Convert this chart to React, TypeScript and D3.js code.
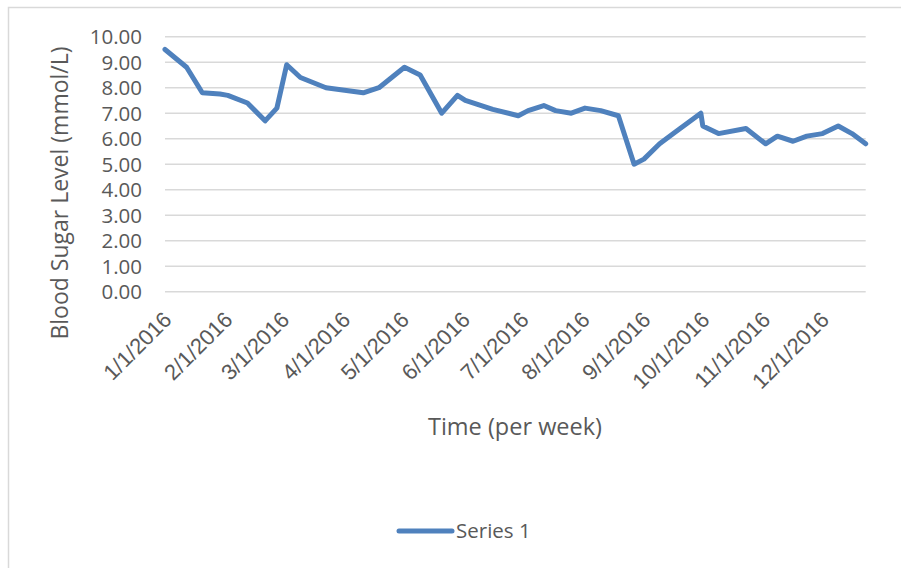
import * as d3 from 'd3';

// readings taken from the chart (one per check-in)
const dates = [
  '2016-01-01', '2016-01-12', '2016-01-20', '2016-01-29', '2016-02-02', '2016-02-12',
  '2016-02-21', '2016-02-27', '2016-03-03', '2016-03-10', '2016-03-23', '2016-04-11',
  '2016-04-19', '2016-05-02', '2016-05-10', '2016-05-21', '2016-05-29', '2016-06-02',
  '2016-06-16', '2016-06-29', '2016-07-04', '2016-07-12', '2016-07-18', '2016-07-26',
  '2016-08-02', '2016-08-10', '2016-08-19', '2016-08-27', '2016-09-01', '2016-09-09',
  '2016-09-16', '2016-09-30', '2016-10-01', '2016-10-09', '2016-10-23', '2016-11-02',
  '2016-11-08', '2016-11-16', '2016-11-23', '2016-12-01', '2016-12-09', '2016-12-16',
  '2016-12-23',
];
const series1 = [
  9.5, 8.8, 7.8, 7.75, 7.7, 7.4,
  6.7, 7.2, 8.9, 8.4, 8.0, 7.8,
  8.0, 8.8, 8.5, 7.0, 7.7, 7.5,
  7.15, 6.9, 7.1, 7.3, 7.1, 7.0,
  7.2, 7.1, 6.9, 5.0, 5.2, 5.8,
  6.2, 7.0, 6.5, 6.2, 6.4, 5.8,
  6.1, 5.9, 6.1, 6.2, 6.5, 6.2,
  5.8,
];
const yTicks = [0, 1, 2, 3, 4, 5, 6, 7, 8, 9, 10];
const monthTicks = [
  '2016-01-01', '2016-02-01', '2016-03-01', '2016-04-01', '2016-05-01', '2016-06-01',
  '2016-07-01', '2016-08-01', '2016-09-01', '2016-10-01', '2016-11-01', '2016-12-01',
];
const seriesName = 'Series 1';
const xTitle = 'Time (per week)';
const yTitle = 'Blood Sugar Level (mmol/L)';

const W = 901;
const H = 568;
const left = 165, right = 865.7, top = 36.7, bottom = 291.7;
const textColor = '#595959';
const lineColor = '#4f81bd';
const uiFont = '"Open Sans", sans-serif';

export default function App() {
  const parse = d3.timeParse('%Y-%m-%d');
  const data = dates.map((d, i) => ({ date: parse(d) as Date, value: series1[i] }));

  const x = d3.scaleTime()
    .domain(d3.extent(data, d => d.date) as [Date, Date])
    .range([left, right]);
  const y = d3.scaleLinear().domain([0, 10]).range([bottom, top]);

  const line = d3.line<{ date: Date; value: number }>()
    .x(d => x(d.date))
    .y(d => y(d.value));

  const fmt = d3.timeFormat('%-m/%-d/%Y');

  return (
    <div style={{ position: 'absolute', left: 0, top: 0 }}>
      <svg width={W} height={H} style={{ display: 'block', background: '#fff' }}>
        {/* chart border */}
        <rect x={8.5} y={7.5} width={W} height={H} fill="none" stroke="#d9d9d9" strokeWidth={1.5} />

        {/* gridlines + y labels */}
        {yTicks.map(t => (
          <g key={t}>
            <line x1={left} x2={right} y1={y(t)} y2={y(t)} stroke="#d9d9d9" strokeWidth={1.5} />
            <text x={142} y={y(t) + 7.5} textAnchor="end" fontFamily={uiFont} fontSize={20.5} fill={textColor}>
              {t.toFixed(2)}
            </text>
          </g>
        ))}

        {/* x labels, rotated */}
        {monthTicks.map(m => {
          const d = parse(m) as Date;
          const px = x(d) + 8;
          const py = 321;
          return (
            <text key={m} x={px} y={py} textAnchor="end" transform={`rotate(-45,${px},${py})`}
              fontFamily="Liberation Sans" fontSize={22} fill={textColor}>
              {fmt(d)}
            </text>
          );
        })}

        <path d={line(data) ?? ''} fill="none" stroke={lineColor} strokeWidth={5}
          strokeLinejoin="round" strokeLinecap="round" />

        {/* axis titles */}
        <text x={515} y={435} textAnchor="middle" fontFamily={uiFont} fontSize={23.5} fill={textColor}>{xTitle}</text>
        <text transform="translate(68,193) rotate(-90)" textAnchor="middle" fontFamily={uiFont} fontSize={23} fill={textColor}>
          {yTitle}
        </text>

        {/* legend */}
        <line x1={399} x2={452} y1={531} y2={531} stroke={lineColor} strokeWidth={5} strokeLinecap="round" />
        <text x={456} y={538} fontFamily={uiFont} fontSize={20.5} fill={textColor}>{seriesName}</text>
      </svg>
    </div>
  );
}
